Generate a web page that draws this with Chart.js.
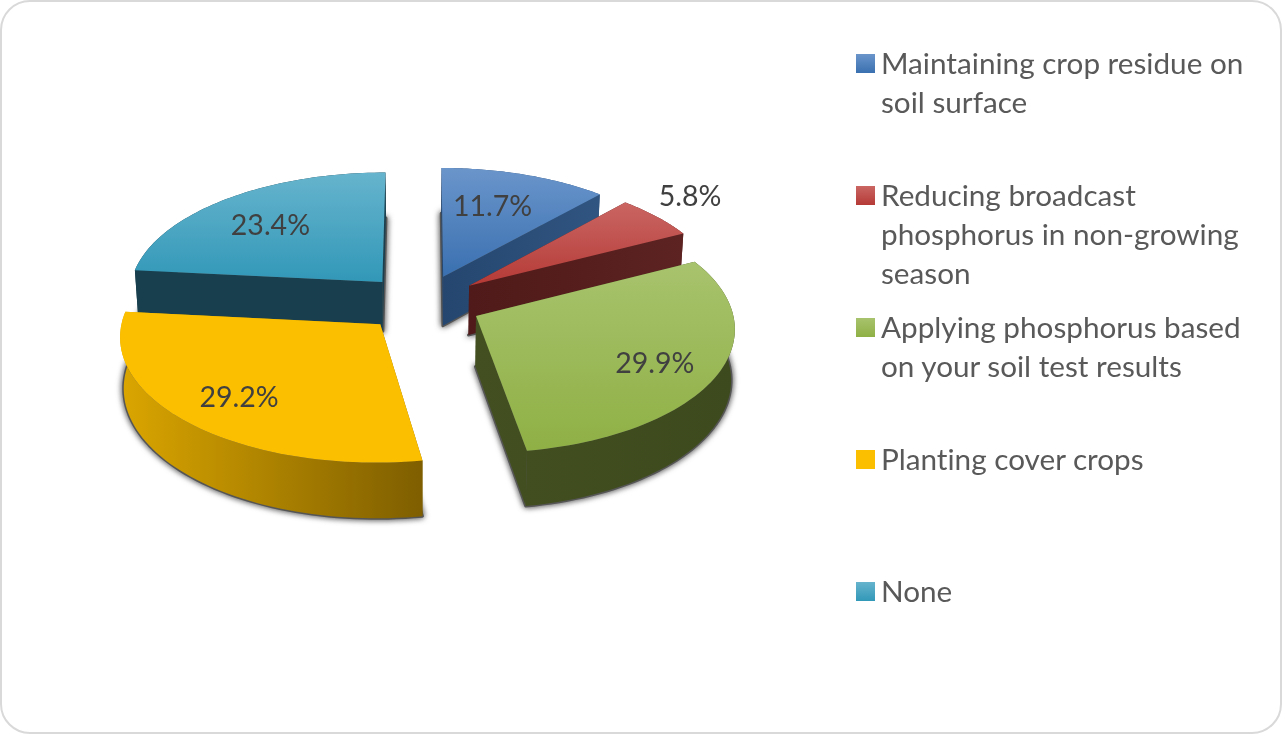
<!DOCTYPE html>
<html>
<head>
<meta charset="utf-8">
<script src="https://cdn.jsdelivr.net/npm/chart.js@4"></script>
<style>
    html, body { margin: 0; padding: 0; background: #fff; }
    #card { position: relative; width: 1282px; height: 734px; box-sizing: border-box; overflow: hidden; }
    #frame { position: absolute; left: 0; top: 0; width: 1282px; height: 734px; box-sizing: border-box; border: 2px solid #d9d9d9; border-radius: 30px; }
    canvas { position: absolute; left: 0; top: 0; }
    .legend-item { position: absolute; left: 881px; width: 385px; font: 29.7px/39px Lato, sans-serif; font-variant-ligatures: none; color: #595959; }
    .legend-box { position: absolute; left: -25px; top: 11px; width: 19px; height: 19px; }
</style>
</head>
<body>
<div id="card">
    <div id="frame"></div>
    <canvas id="pieChart" width="1282" height="734"></canvas>
    <div id="legend"></div>
</div>
<script>
const categories = [
    'Maintaining crop residue on soil surface',
    'Reducing broadcast phosphorus in non-growing season',
    'Applying phosphorus based on your soil test results',
    'Planting cover crops',
    'None'
];
const values = [11.7, 5.8, 29.9, 29.2, 23.4];

// Colores de cada porción
const baseColors = ['#4f81bd', '#c0504d', '#9bbb59', '#fcbf00', '#4bacc6'];
const topLight = ['#6a95cb', '#ca6663', '#a8c36d', '#fcbf00', '#66b4cd'];
const topDark = ['#3a70b0', '#b53a36', '#8fb045', '#fcbf00', '#3298b8'];
const wallLeft = ['#24466f', '#4f1a19', '#434f20', '#dba600', '#183f4d'];
const wallRight = ['#305580', '#5c2322', '#3d4a1d', '#7e5e00', '#193f4e'];

// Proyección de la torta en perspectiva
const SQUASH = 0.48;
const PERSPECTIVE = 0.00034;
const DEPTH = 50;
const NARROW = 0.012;
const EXPLODE = 60;
const labelRadius = [0.66, 1.24, 0.76, 0.755, 0.68];
const labelAngleShift = [-0.04, -0.045, 0.035, -0.01, -0.03];

function projectPoint(arc, angle, radius, depth) {
    const mid = (arc.startAngle + arc.endAngle) / 2;
    const wx = arc.options.offset * Math.cos(mid) + radius * Math.cos(angle);
    const wy = arc.options.offset * Math.sin(mid) + radius * Math.sin(angle);
    const f = 1 / (1 - PERSPECTIVE * wy);
    return {
        x: arc.x + wx * f * (1 - NARROW * depth),
        y: arc.y + wy * SQUASH * f + depth * DEPTH * f
    };
}

function rimPoints(arc, depth) {
    const pts = [];
    const steps = 60;
    for (let i = 0; i <= steps; i++) {
        const a = arc.startAngle + (arc.endAngle - arc.startAngle) * i / steps;
        pts.push(projectPoint(arc, a, arc.outerRadius, depth));
    }
    return pts;
}

function tracePath(ctx, pts) {
    ctx.beginPath();
    pts.forEach((p, i) => i ? ctx.lineTo(p.x, p.y) : ctx.moveTo(p.x, p.y));
    ctx.closePath();
}

function drawShadow(ctx, arc) {
    const apex = projectPoint(arc, 0, 0, 1);
    ctx.save();
    ctx.shadowColor = 'rgba(0,0,0,0.7)';
    ctx.shadowBlur = 6;
    ctx.fillStyle = '#555';
    ctx.strokeStyle = '#555';
    ctx.lineWidth = 3;
    ctx.lineJoin = 'round';
    tracePath(ctx, [apex].concat(rimPoints(arc, 1)));
    ctx.fill();
    ctx.stroke();
    ctx.restore();
}

function drawSlice(ctx, arc, i) {
    const topApex = projectPoint(arc, 0, 0, 0);
    const lowApex = projectPoint(arc, 0, 0, 1);
    const topRim = rimPoints(arc, 0);
    const lowRim = rimPoints(arc, 1);
    const xs = topRim.map(p => p.x).concat(topApex.x);
    const ys = topRim.map(p => p.y).concat(topApex.y);

    const wallFill = ctx.createLinearGradient(Math.min(...xs), 0, Math.max(...xs), 0);
    wallFill.addColorStop(0, wallLeft[i]);
    wallFill.addColorStop(1, wallRight[i]);
    ctx.fillStyle = wallFill;

    // Paredes de los cortes
    tracePath(ctx, [topApex, topRim[0], lowRim[0], lowApex]);
    ctx.fill();
    tracePath(ctx, [topApex, topRim[topRim.length - 1], lowRim[lowRim.length - 1], lowApex]);
    ctx.fill();
    // Pared exterior
    tracePath(ctx, topRim.concat(lowRim.slice().reverse()));
    ctx.fill();

    // Cara superior
    const topFill = ctx.createLinearGradient(0, Math.min(...ys), 0, Math.max(...ys));
    topFill.addColorStop(0, topLight[i]);
    topFill.addColorStop(1, topDark[i]);
    ctx.fillStyle = topFill;
    tracePath(ctx, [topApex].concat(topRim));
    ctx.fill();
}

const pie3d = {
    id: 'pie3d',
    beforeDatasetsDraw(chart) {
        const ctx = chart.ctx;
        const arcs = chart.getDatasetMeta(0).data;
        const order = arcs.map((a, i) => i).sort((p, q) => {
            const mp = (arcs[p].startAngle + arcs[p].endAngle) / 2;
            const mq = (arcs[q].startAngle + arcs[q].endAngle) / 2;
            return Math.sin(mp) - Math.sin(mq);
        });
        arcs.forEach(a => drawShadow(ctx, a));
        order.forEach(i => drawSlice(ctx, arcs[i], i));

        ctx.save();
        ctx.font = '28.5px Lato, sans-serif';
        ctx.fillStyle = '#404040';
        ctx.textAlign = 'center';
        ctx.textBaseline = 'middle';
        arcs.forEach((a, i) => {
            const mid = (a.startAngle + a.endAngle) / 2 + labelAngleShift[i];
            const p = projectPoint(a, mid, a.outerRadius * labelRadius[i], 0);
            ctx.fillText(values[i].toFixed(1) + '%', p.x, p.y);
        });
        ctx.restore();
        return false;
    }
};

new Chart(document.getElementById('pieChart'), {
    type: 'pie',
    data: {
        labels: categories,
        datasets: [{
            data: values,
            backgroundColor: baseColors,
            offset: EXPLODE,
            radius: 255
        }]
    },
    options: {
        responsive: false,
        animation: false,
        layout: { padding: { right: 438, bottom: 128 } },
        plugins: { legend: { display: false }, tooltip: { enabled: false } }
    },
    plugins: [pie3d]
});

// Leyenda a la derecha
const legendEl = document.getElementById('legend');
categories.forEach((name, i) => {
    const item = document.createElement('div');
    item.className = 'legend-item';
    item.style.top = (43 + 132 * i) + 'px';
    item.textContent = name;
    const box = document.createElement('span');
    box.className = 'legend-box';
    box.style.background = `linear-gradient(${topLight[i]}, ${topDark[i]})`;
    item.appendChild(box);
    legendEl.appendChild(item);
});
</script>
</body>
</html>
